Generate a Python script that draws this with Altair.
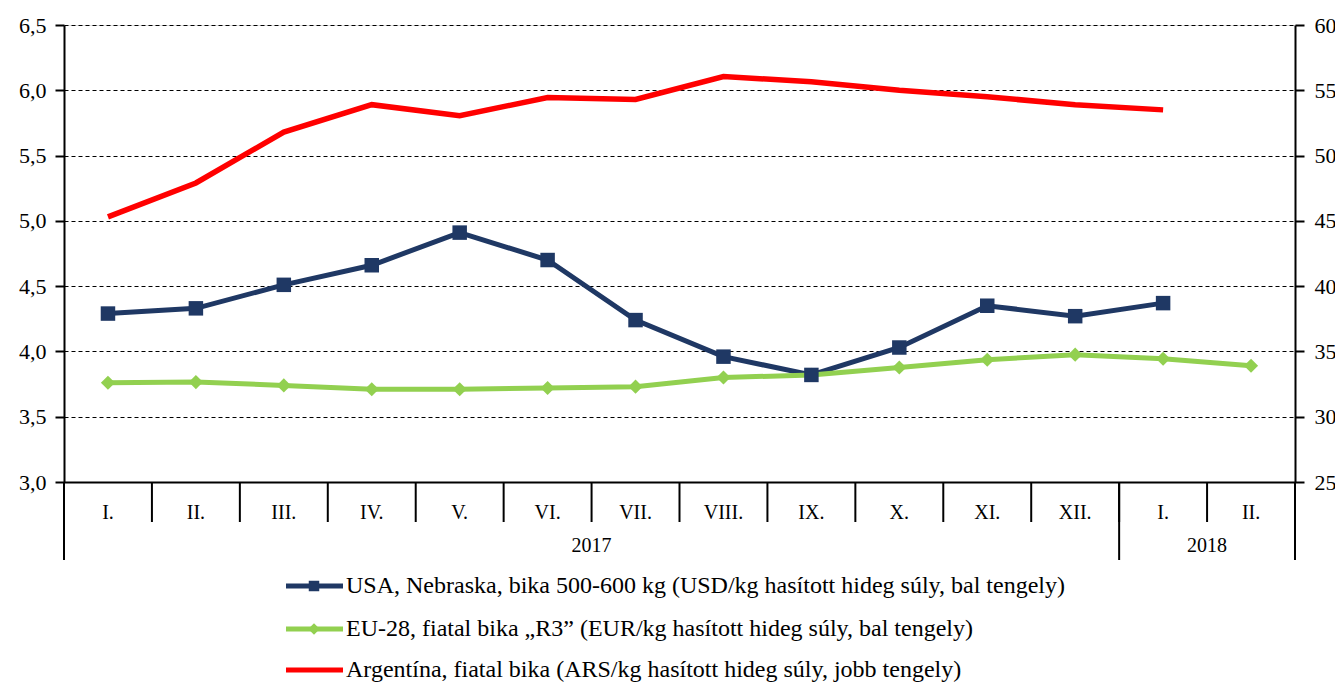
import altair as alt
import pandas as pd

# ---- data ----
month_labels = ["I.", "II.", "III.", "IV.", "V.", "VI.", "VII.", "VIII.", "IX.", "X.", "XI.", "XII.", "I.", "II."]
years = ["2017"] * 12 + ["2018"] * 2
usa = [4.29, 4.33, 4.51, 4.66, 4.91, 4.70, 4.24, 3.96, 3.82, 4.03, 4.35, 4.27, 4.37, None]
eu = [3.76, 3.765, 3.74, 3.71, 3.71, 3.72, 3.73, 3.80, 3.82, 3.877, 3.936, 3.975, 3.944, 3.89]
arg = [45.3, 47.9, 51.8, 53.9, 53.05, 54.45, 54.3, 56.05, 55.65, 55.0, 54.5, 53.9, 53.5, None]

series_names = [
    "USA, Nebraska, bika 500-600 kg (USD/kg hasított hideg súly, bal tengely)",
    "EU-28, fiatal bika „R3” (EUR/kg hasított hideg súly, bal tengely)",
    "Argentína, fiatal bika (ARS/kg hasított hideg súly, jobb tengely)",
]
colors = ["#1F3864", "#92D050", "#FF0000"]
year_labels = ["2017", "2018"]

keys = [f"{y}-{m}" for y, m in zip(years, month_labels)]
df = pd.DataFrame({"key": keys, "usa": usa, "eu": eu, "arg": arg})

FONT = "Liberation Serif"
W, H = 1231, 457

x_scale = alt.Scale(domain=keys, paddingInner=0, paddingOuter=0)
x_axis = alt.Axis(title=None, ticks=False, grid=False, domain=True, domainColor="black",
                  domainWidth=2, labelAngle=0, labelPadding=30, labelBaseline="middle",
                  labelFont=FONT, labelFontSize=20, labelColor="black",
                  labelExpr="split(datum.value, '-')[1]")


def xenc(band=0.5):
    return alt.X("key:N", sort=keys, scale=x_scale, axis=x_axis, bandPosition=band)


left_scale = alt.Scale(domain=[3.0, 6.5], nice=False, zero=False)
right_scale = alt.Scale(domain=[25, 60], nice=False, zero=False)

left_axis = alt.Axis(title=None, values=[3.0, 3.5, 4.0, 4.5, 5.0, 5.5, 6.0, 6.5], grid=True,
                     gridDash=[4, 3], gridColor="black", gridWidth=1, gridOpacity=1,
                     domainColor="black", domainWidth=2, tickColor="black", tickWidth=2, tickSize=9,
                     labelFont=FONT, labelFontSize=22, labelColor="black", labelPadding=9,
                     labelExpr="replace(format(datum.value, '.1f'), '.', ',')")
right_axis = alt.Axis(title=None, orient="right", values=[25, 30, 35, 40, 45, 50, 55, 60], grid=False,
                      domainColor="black", domainWidth=2, tickColor="black", tickWidth=2, tickSize=9,
                      labelFont=FONT, labelFontSize=22, labelColor="black", labelPadding=10, format="d")


def yleft(field):
    return alt.Y(f"{field}:Q", scale=left_scale, axis=left_axis)


base = alt.Chart(df)

usa_line = base.mark_line(color=colors[0], strokeWidth=5).encode(x=xenc(), y=yleft("usa"))
usa_pts = base.mark_point(shape="square", filled=True, size=210, color=colors[0], opacity=1).encode(
    x=xenc(), y=yleft("usa"))
eu_line = base.mark_line(color=colors[1], strokeWidth=5).encode(x=xenc(), y=yleft("eu"))
eu_pts = base.mark_point(shape="diamond", filled=True, size=200, color=colors[1], opacity=1).encode(
    x=xenc(), y=yleft("eu"))

left_layer = alt.layer(usa_line, eu_line, eu_pts, usa_pts)

arg_line = base.mark_line(color=colors[2], strokeWidth=5.5).encode(
    x=xenc(), y=alt.Y("arg:Q", scale=right_scale, axis=right_axis))

# month separators
sep_df = pd.DataFrame({"key": keys[1:]})
seps = alt.Chart(sep_df).mark_rule(color="black", strokeWidth=2).encode(
    x=xenc(0), y=alt.value(H), y2=alt.value(H + 40))

# year boundaries (long lines)
yb_start = pd.DataFrame({"key": [keys[0], keys[12]]})
ybounds = alt.Chart(yb_start).mark_rule(color="black", strokeWidth=2).encode(
    x=xenc(0), y=alt.value(H), y2=alt.value(H + 78))
yb_end = pd.DataFrame({"key": [keys[-1]]})
ybound_end = alt.Chart(yb_end).mark_rule(color="black", strokeWidth=2).encode(
    x=xenc(1), y=alt.value(H), y2=alt.value(H + 78))

# year labels (centred between boundaries)
yl_df = pd.DataFrame({"key": [keys[6], keys[13]], "label": year_labels})
ylabels = alt.Chart(yl_df).mark_text(font=FONT, fontSize=20, color="black", baseline="middle").encode(
    x=xenc(0), y=alt.value(H + 64), text="label:N")

# legend
leg_y = [H + 104, H + 147, H + 188]
leg_layers = []
shapes = ["square", "diamond", None]
sizes = [110, 130, 0]
for i in range(3):
    d = pd.DataFrame({"name": [series_names[i]]})
    c = alt.Chart(d)
    leg_layers.append(c.mark_rule(color=colors[i], strokeWidth=5).encode(
        x=alt.value(222), x2=alt.value(279), y=alt.value(leg_y[i])))
    if shapes[i]:
        leg_layers.append(c.mark_point(shape=shapes[i], filled=True, size=sizes[i], color=colors[i],
                                       opacity=1).encode(x=alt.value(250), y=alt.value(leg_y[i])))
    leg_layers.append(c.mark_text(font=FONT, fontSize=24, color="black", align="left",
                                  baseline="middle").encode(
        x=alt.value(282), y=alt.value(leg_y[i]), text="name:N"))

chart = alt.layer(
    left_layer, arg_line, seps, ybounds, ybound_end, ylabels, *leg_layers
).resolve_scale(y="independent").properties(
    width=W, height=H,
    autosize=alt.AutoSizeParams(type="none"),
    padding={"left": 56, "top": 17, "right": 40, "bottom": 206},
).configure_view(stroke=None).configure(background="white")

chart.save("out.html", embed_options={"renderer": "svg", "actions": False})
